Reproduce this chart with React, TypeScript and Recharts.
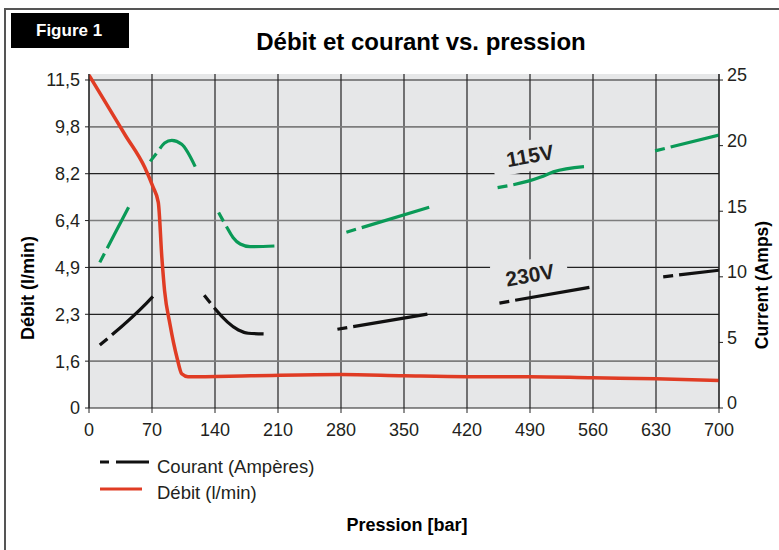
import React from "react";
import {
  LineChart,
  Line,
  XAxis,
  YAxis,
  CartesianGrid,
  ReferenceDot,
} from "recharts";

const FONT = "'Liberation Sans', Arial, Helvetica, sans-serif";
const INK = "#231f20";

// pression (bar) ticks
const PRESSURE_TICKS = [0, 70, 140, 210, 280, 350, 420, 490, 560, 630, 700];
// left axis: evenly spaced gridlines carrying uneven débit labels
const DEBIT_TICK_VALUES = [0, 1.6, 2.3, 4.9, 6.4, 8.2, 9.8, 11.5];
const DEBIT_TICK_LABELS = ["0", "1,6", "2,3", "4,9", "6,4", "8,2", "9,8", "11,5"];
const CURRENT_TICKS = [0, 5, 10, 15, 20, 25];

// débit (l/min) vs pression
const DEBIT_PRESSURE = [0, 20, 40, 62, 71, 77, 81, 84, 90, 98, 103, 110, 180, 280, 350, 420, 490, 560, 630, 700];
const DEBIT_FLOW = [11.68, 10.6, 9.53, 8.41, 7.7, 7.1, 5.2, 3.6, 2.15, 1.64, 1.17, 1.07, 1.1, 1.14, 1.1, 1.07, 1.07, 1.03, 1.0, 0.94];

// courant (A) segments, [pression, amps]
const CURRENT_115V: number[][][] = [
  [[12, 11.1], [28, 13.2], [44, 15.3]],
  [[68, 18.8], [76, 19.5], [84, 20.2], [92, 20.4], [103, 20.1], [118, 18.4]],
  [[144, 14.9], [153, 13.8], [160, 13.0], [168, 12.5], [179, 12.3], [206, 12.35]],
  [[286, 13.4], [378, 15.3]],
  [[454, 16.8], [502, 17.6], [516, 18.0], [550, 18.4]],
  [[629, 19.6], [700, 20.8]],
];
const CURRENT_230V: number[][][] = [
  [[12, 4.8], [64, 8.0], [71, 8.5]],
  [[128, 8.6], [166, 5.95], [177, 5.7], [194, 5.65]],
  [[276, 6.0], [376, 7.15]],
  [[456, 8.0], [556, 9.2]],
  [[638, 10.0], [700, 10.5]],
];

// map a débit value onto the evenly spaced left axis
function toAxisPos(v: number) {
  const L = DEBIT_TICK_VALUES;
  const n = L.length - 1;
  if (v >= L[n]) return n + (v - L[n]) / (L[n] - L[n - 1]);
  for (let i = 0; i < n; i++) {
    if (v <= L[i + 1]) return i + (v - L[i]) / (L[i + 1] - L[i]);
  }
  return n;
}

const debitData = DEBIT_PRESSURE.map((p, i) => ({ p, v: toAxisPos(DEBIT_FLOW[i]) }));
const toPts = (seg: number[][]) => seg.map(([p, v]) => ({ p, v }));

const GREEN = "#0a9a57";
const RED = "#e03c24";
const DASH = "10 6 3000";

const RightTick = (props: any) => {
  const { x, y, payload } = props;
  return (
    <text x={x} y={y - 5} dy="0.35em" fill={INK} fontSize={18} textAnchor="start">
      {payload.value}
    </text>
  );
};

const voltageLabel = (text: string) => (props: any) => {
  const { cx, cy } = props;
  return (
    <g transform={`translate(${cx},${cy}) rotate(-10)`}>
      <rect x={-38} y={-16} width={76} height={31} fill="#e6e7e8" />
      <text x={0} y={7} textAnchor="middle" fontSize={21} fontWeight={700} fill={INK}>
        {text}
      </text>
    </g>
  );
};

export default function App() {
  return (
    <div
      style={{
        position: "absolute",
        left: 0,
        top: 0,
        width: 779,
        height: 550,
        background: "#fff",
        overflow: "hidden",
        fontFamily: FONT,
      }}
    >
      <div
        style={{
          position: "absolute",
          left: 4,
          top: 8,
          width: 820,
          height: 600,
          borderTop: "2px solid #555",
          borderLeft: "2px solid #555",
        }}
      />
      <div style={{ position: "absolute", left: 0, top: 0 }}>
        <LineChart width={779} height={550} margin={{ top: 74, right: 0, left: 29, bottom: 112 }}>
          <CartesianGrid
            yAxisId="left"
            fill="#e6e7e8"
            stroke="#222"
            strokeWidth={1.2}
            horizontalValues={[2, 3, 5, 7]}
          />
          <CartesianGrid
            yAxisId="left"
            vertical={false}
            stroke="#7d7d7d"
            strokeWidth={1.6}
            horizontalValues={[1, 4, 6]}
          />
          <XAxis
            dataKey="p"
            type="number"
            domain={[0, 700]}
            ticks={PRESSURE_TICKS}
            interval={0}
            allowDataOverflow
            stroke="#222"
            tickSize={5}
            tickMargin={10}
            tick={{ fill: INK, fontSize: 18 }}
          />
          <YAxis
            yAxisId="left"
            orientation="left"
            width={60}
            type="number"
            domain={[0, 7.128]}
            ticks={[0, 1, 2, 3, 4, 5, 6, 7]}
            interval={0}
            allowDataOverflow
            tickFormatter={(v: number) => DEBIT_TICK_LABELS[v]}
            stroke="#222"
            tickSize={4}
            tickMargin={5}
            tick={{ fill: INK, fontSize: 18 }}
          />
          <YAxis
            yAxisId="right"
            orientation="right"
            width={60}
            type="number"
            domain={[0, 25.46]}
            ticks={CURRENT_TICKS}
            interval={0}
            allowDataOverflow
            stroke="#222"
            tickSize={4}
            tickMargin={4}
            tick={<RightTick />}
          />
          <Line
            yAxisId="left"
            data={debitData}
            dataKey="v"
            type="monotone"
            stroke={RED}
            strokeWidth={3.5}
            dot={false}
            activeDot={false}
            isAnimationActive={false}
          />
          {CURRENT_115V.map((seg, i) => (
            <Line
              key={"g" + i}
              yAxisId="right"
              data={toPts(seg)}
              dataKey="v"
              type="monotone"
              stroke={GREEN}
              strokeWidth={3.2}
              strokeDasharray={DASH}
              dot={false}
              activeDot={false}
              isAnimationActive={false}
            />
          ))}
          {CURRENT_230V.map((seg, i) => (
            <Line
              key={"b" + i}
              yAxisId="right"
              data={toPts(seg)}
              dataKey="v"
              type="monotone"
              stroke="#111"
              strokeWidth={3.2}
              strokeDasharray={DASH}
              dot={false}
              activeDot={false}
              isAnimationActive={false}
            />
          ))}
          <ReferenceDot yAxisId="right" x={490} y={19.2} r={0} shape={voltageLabel("115V")} />
          <ReferenceDot yAxisId="right" x={490} y={10.1} r={0} shape={voltageLabel("230V")} />
        </LineChart>
      </div>
      <svg
        width={779}
        height={550}
        style={{ position: "absolute", left: 0, top: 0, pointerEvents: "none" }}
      >
        <rect x={11} y={13} width={118} height={35} fill="#000" />
        <text x={36} y={36} fill="#fff" fontSize={17} fontWeight={700}>
          Figure 1
        </text>
        <text x={421} y={50} textAnchor="middle" fontSize={24} fontWeight={700} fill="#000">
          Débit et courant vs. pression
        </text>
        <text
          transform="translate(34,288) rotate(-90)"
          textAnchor="middle"
          fontSize={18}
          fontWeight={700}
          fill="#000"
        >
          Débit (l/min)
        </text>
        <text
          transform="translate(768,285) rotate(-90)"
          textAnchor="middle"
          fontSize={17.5}
          fontWeight={700}
          fill="#000"
        >
          Current (Amps)
        </text>
        <line x1={100} y1={462} x2={149} y2={462} stroke="#111" strokeWidth={3} strokeDasharray="9 7 40" />
        <text x={157} y={473} fontSize={18.5} fill={INK}>
          Courant (Ampères)
        </text>
        <line x1={100} y1={489} x2={142} y2={489} stroke={RED} strokeWidth={3} />
        <text x={157} y={499} fontSize={18.5} fill={INK}>
          Débit (l/min)
        </text>
        <text x={407} y={531} textAnchor="middle" fontSize={18} fontWeight={700} fill="#000">
          Pression [bar]
        </text>
      </svg>
    </div>
  );
}
